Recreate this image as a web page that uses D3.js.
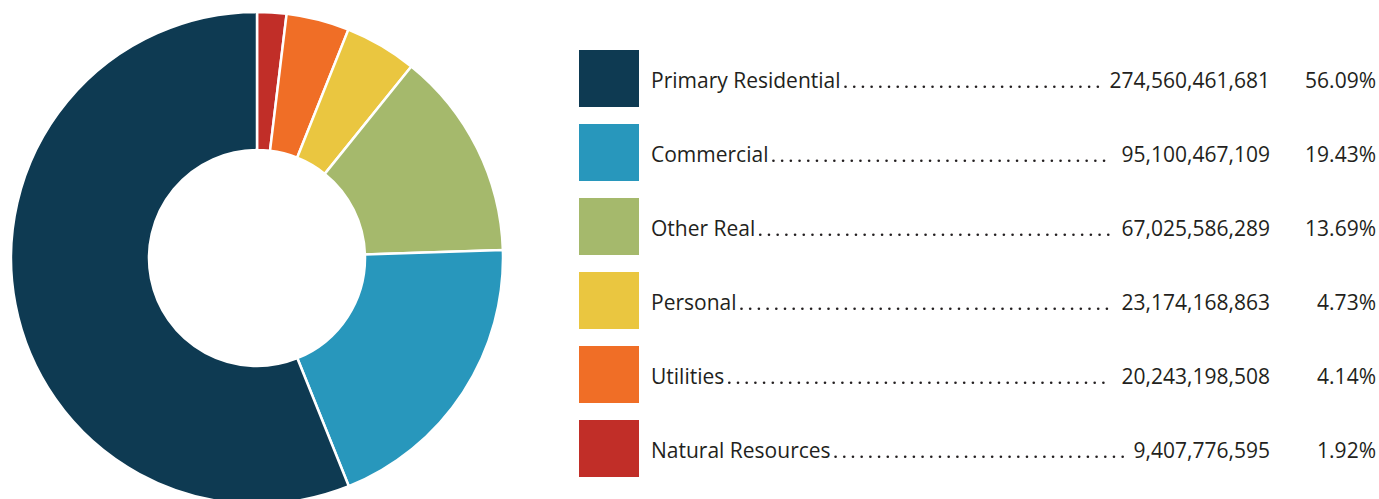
<!DOCTYPE html>
<html>
<head>
<meta charset="utf-8">
<script src="https://cdn.jsdelivr.net/npm/d3@7"></script>
<style>
  body { margin: 0; background: #fff; }
  svg { display: block; }
</style>
</head>
<body>
<div id="bdy"></div>
<script>
var width = 1379;
var height = 499;

// chart data
var categories = ["Primary Residential", "Commercial", "Other Real", "Personal", "Utilities", "Natural Resources"];
var values = [274560461681, 95100467109, 67025586289, 23174168863, 20243198508, 9407776595];
var valueLabels = ["274,560,461,681", "95,100,467,109", "67,025,586,289", "23,174,168,863", "20,243,198,508", "9,407,776,595"];
var pctLabels = ["56.09%", "19.43%", "13.69%", "4.73%", "4.14%", "1.92%"];
var colors = ["#0e3a52", "#2897bc", "#a5b96c", "#eac640", "#f06e26", "#c12e28"];

var data = categories.map(function(c, i) {
    return { name: c, value: values[i], label: valueLabels[i], pct: pctLabels[i], color: colors[i] };
});

var svg = d3.select('#bdy').append('svg')
    .attr('width', width)
    .attr('height', height);

//========================================================================
//                      DONUT
//========================================================================
var cx = 257, cy = 258;
var outerR = 246, innerR = 108;

// primary residential runs counter-clockwise from 12 o'clock,
// so lay the slices out in reverse order clockwise
var pie = d3.pie()
    .sort(null)
    .value(function(d) { return d.value; });

var arc = d3.arc()
    .innerRadius(innerR)
    .outerRadius(outerR);

var donut = svg.append('g')
    .attr('transform', 'translate(' + cx + ',' + cy + ')');

donut.selectAll('path')
    .data(pie(data.slice().reverse()))
    .enter()
    .append('path')
    .attr('d', arc)
    .attr('fill', function(d) { return d.data.color; })
    .attr('stroke', '#fff')
    .attr('stroke-width', 2.5);

//========================================================================
//                      LEGEND TABLE
//========================================================================
var rowY = d3.scaleBand()
    .domain(categories)
    .range([50, 50 + 74 * categories.length])
    .paddingInner(0);

var font = "'Open Sans', 'Noto Sans', sans-serif";
var fontSize = 21;
var numRight = 1270, pctRight = 1376;

var rows = svg.append('g').selectAll('g.row')
    .data(data)
    .enter()
    .append('g')
    .attr('class', 'row')
    .attr('transform', function(d) { return 'translate(0,' + rowY(d.name) + ')'; });

rows.append('rect')
    .attr('x', 579)
    .attr('y', 0)
    .attr('width', 60)
    .attr('height', 57)
    .attr('fill', function(d) { return d.color; });

var baseline = 38;

function styleText(sel) {
    sel.attr('y', baseline)
        .style('font-family', font)
        .style('font-size', fontSize + 'px')
        .attr('fill', '#231f20');
}

rows.append('text')
    .attr('class', 'name')
    .attr('x', 651)
    .call(styleText)
    .text(function(d) { return d.name; });

rows.append('text')
    .attr('class', 'num')
    .attr('x', numRight)
    .attr('text-anchor', 'end')
    .call(styleText)
    .text(function(d) { return d.label; });

rows.append('text')
    .attr('x', pctRight)
    .attr('text-anchor', 'end')
    .call(styleText)
    .text(function(d) { return d.pct; });

// dot leaders between the label and the number
var dotStep = 8.7;
rows.each(function(d) {
    var g = d3.select(this);
    var nameEnd = 651 + g.select('text.name').node().getComputedTextLength();
    var numStart = numRight - g.select('text.num').node().getComputedTextLength();
    var xs = [];
    for (var x = nameEnd + 5; x <= numStart - 10; x += dotStep) xs.push(x);
    g.selectAll('circle.dot')
        .data(xs)
        .enter()
        .append('circle')
        .attr('class', 'dot')
        .attr('cx', function(x) { return x; })
        .attr('cy', baseline - 1.3)
        .attr('r', 1.3)
        .attr('fill', '#231f20');
});
</script>
</body>
</html>
